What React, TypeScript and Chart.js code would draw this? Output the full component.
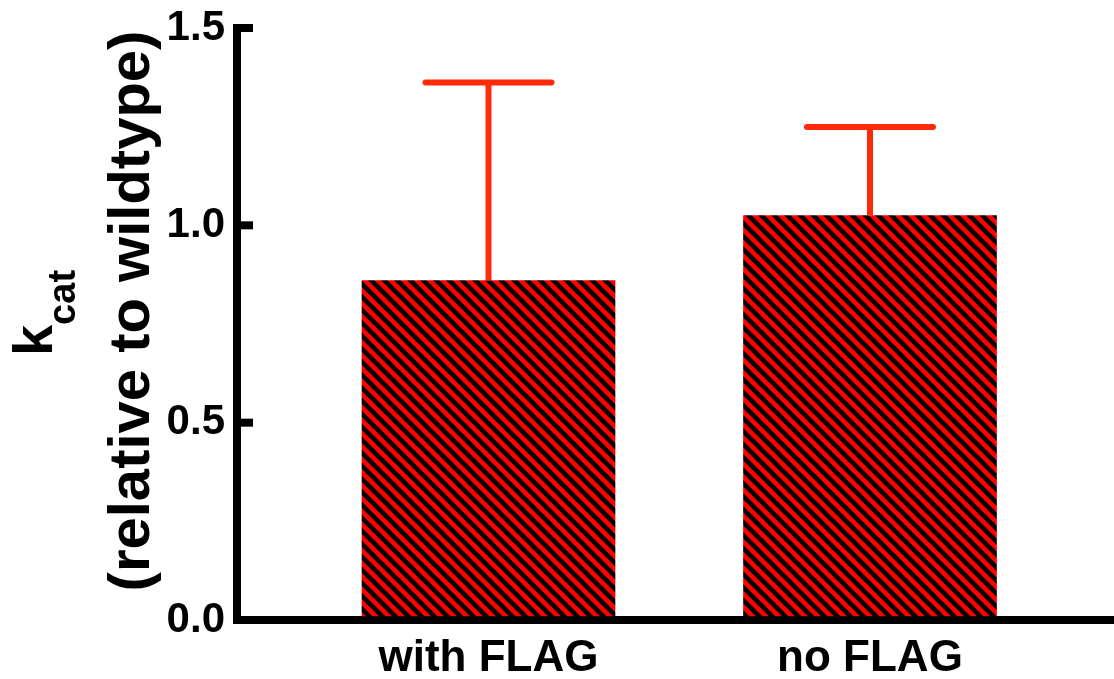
import React, { useEffect, useRef } from 'react';
import { Chart, registerables } from 'chart.js';

Chart.register(...registerables);

// ---- data ----
const categories: string[] = ['with FLAG', 'no FLAG'];
const means: number[] = [0.86, 1.025];
const errors: number[] = [0.502, 0.224];
const yTicks: number[] = [0, 0.5, 1.0, 1.5];
const yTitleMain = 'k';
const yTitleSub = 'cat';
const yTitleLine2 = '(relative to wildtype)';

const FONT = '"Liberation Sans", Arial, Helvetica, sans-serif';
const ERR_COLOR = '#ff2a08';

function makePattern(ctx: CanvasRenderingContext2D): CanvasPattern | string {
  const s = 13;
  const c = document.createElement('canvas');
  c.width = s;
  c.height = s;
  const g = c.getContext('2d');
  if (!g) return '#ff0000';
  g.fillStyle = '#ff0000';
  g.fillRect(0, 0, s, s);
  g.strokeStyle = '#000000';
  g.lineWidth = 4.5;
  for (const k of [-1, 0, 1]) {
    g.beginPath();
    g.moveTo(k * s - 3, -3);
    g.lineTo(k * s + s + 3, s + 3);
    g.stroke();
  }
  return ctx.createPattern(c, 'repeat') || '#ff0000';
}

const extrasPlugin = {
  id: 'extras',
  afterDraw(chart: any) {
    const ctx: CanvasRenderingContext2D = chart.ctx;
    const xs = chart.scales.x;
    const ys = chart.scales.y;
    const area = chart.chartArea;

    // inward y ticks
    ctx.save();
    ctx.strokeStyle = '#000';
    ctx.lineWidth = 8;
    ctx.lineCap = 'butt';
    yTicks.forEach((v) => {
      if (v === 0) return;
      const y = ys.getPixelForValue(v);
      ctx.beginPath();
      ctx.moveTo(area.left - 4, y);
      ctx.lineTo(area.left + 16, y);
      ctx.stroke();
    });
    ctx.restore();

    // error bars (upper only)
    ctx.save();
    ctx.strokeStyle = ERR_COLOR;
    ctx.lineWidth = 6;
    means.forEach((m, i) => {
      const x = xs.getPixelForValue(i + 1);
      const y0 = ys.getPixelForValue(m);
      const y1 = ys.getPixelForValue(m + errors[i]);
      ctx.lineCap = 'butt';
      ctx.beginPath();
      ctx.moveTo(x, y0);
      ctx.lineTo(x, y1);
      ctx.stroke();
      ctx.lineCap = 'round';
      ctx.beginPath();
      ctx.moveTo(x - 63, y1);
      ctx.lineTo(x + 63, y1);
      ctx.stroke();
    });
    ctx.restore();

    // y-axis title (two lines, with subscript)
    ctx.save();
    ctx.fillStyle = '#000';
    ctx.textBaseline = 'alphabetic';
    ctx.save();
    ctx.translate(149, 311);
    ctx.rotate(-Math.PI / 2);
    ctx.textAlign = 'center';
    ctx.font = `bold 58px ${FONT}`;
    ctx.fillText(yTitleLine2, 0, 0);
    ctx.restore();
    ctx.save();
    ctx.translate(52, 313);
    ctx.rotate(-Math.PI / 2);
    ctx.textAlign = 'left';
    ctx.font = `bold 56px ${FONT}`;
    const wk = ctx.measureText(yTitleMain).width;
    ctx.font = `bold 38px ${FONT}`;
    const wc = ctx.measureText(yTitleSub).width;
    const start = -(wk + wc) / 2;
    ctx.font = `bold 56px ${FONT}`;
    ctx.fillText(yTitleMain, start, 0);
    ctx.font = `bold 38px ${FONT}`;
    ctx.fillText(yTitleSub, start + wk, 23);
    ctx.restore();
    ctx.restore();
  },
};

export default function App() {
  const ref = useRef<HTMLCanvasElement | null>(null);

  useEffect(() => {
    const canvas = ref.current;
    if (!canvas) return;
    const ctx = canvas.getContext('2d');
    if (!ctx) return;
    const pattern = makePattern(ctx);

    const chart = new Chart(ctx, {
      type: 'bar',
      data: {
        datasets: [
          {
            data: means.map((m, i) => ({ x: i + 1, y: m })),
            backgroundColor: pattern as any,
            borderWidth: 0,
            barThickness: 253,
          } as any,
        ],
      },
      options: {
        animation: false,
        responsive: false,
        devicePixelRatio: 1,
        layout: { padding: { top: 28, left: 0, right: 0, bottom: 0 } },
        plugins: { legend: { display: false }, tooltip: { enabled: false } },
        scales: {
          x: {
            type: 'linear',
            offset: false,
            bounds: 'data',
            min: 0.3408,
            max: 2.6396,
            afterBuildTicks: (s: any) => {
              s.ticks = categories.map((_, i) => ({ value: i + 1 }));
            },
            afterFit: (s: any) => {
              s.height = 59;
              s.paddingLeft = 0;
              s.paddingRight = 0;
            },
            grid: { display: true, offset: false, drawOnChartArea: false, drawTicks: false, lineWidth: 8, color: '#000' },
            border: { display: true, width: 8, color: '#000' },
            ticks: {
              autoSkip: false,
              maxRotation: 0,
              padding: 12,
              color: '#000',
              font: { family: FONT, size: 44, weight: 'bold' },
              callback: (v: any) => categories[Math.round(Number(v)) - 1] ?? '',
            },
          },
          y: {
            min: 0,
            max: 1.5,
            afterBuildTicks: (s: any) => {
              s.ticks = yTicks.map((v) => ({ value: v }));
            },
            afterFit: (s: any) => {
              s.width = 237;
              s.paddingTop = 0;
              s.paddingBottom = 0;
            },
            grid: { display: true, drawOnChartArea: false, drawTicks: false, lineWidth: 8, color: '#000' },
            border: { display: true, width: 8, color: '#000' },
            ticks: {
              padding: 12,
              color: '#000',
              font: { family: FONT, size: 42, weight: 'bold' },
              callback: (v: any) => Number(v).toFixed(1),
            },
          },
        },
      } as any,
      plugins: [extrasPlugin],
    });
    return () => chart.destroy();
  }, []);

  return (
    <canvas
      ref={ref}
      width={1114}
      height={679}
      style={{ position: 'fixed', left: 0, top: 0, width: 1114, height: 679, background: '#fff' }}
    />
  );
}
